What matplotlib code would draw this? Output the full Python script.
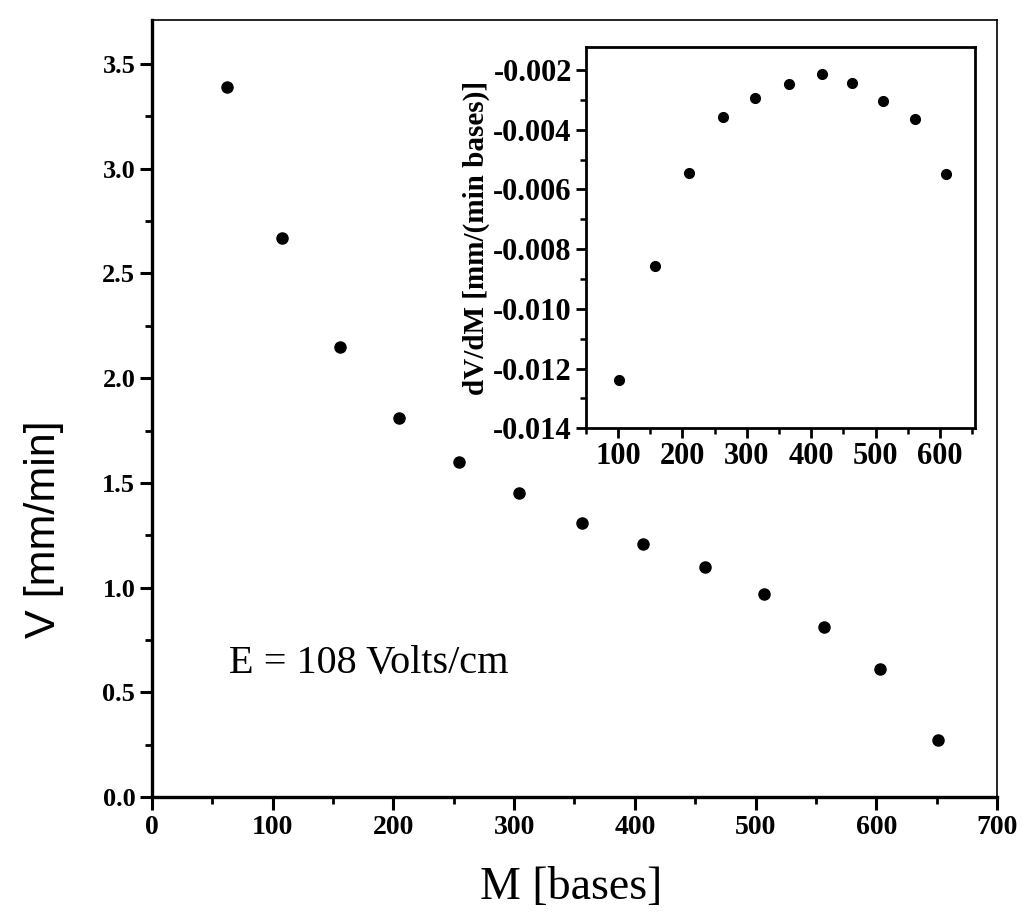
import matplotlib
matplotlib.use("Agg")
import matplotlib.pyplot as plt
from matplotlib.ticker import MultipleLocator, FormatStrFormatter

plt.rcParams['axes.unicode_minus'] = False
plt.rcParams['font.family'] = ['Liberation Serif', 'DejaVu Serif']

# migration velocity vs fragment size
size_bases = [62, 108, 156, 205, 254, 304, 356, 407, 458, 507, 557, 603, 651]
velocity = [3.39, 2.67, 2.15, 1.81, 1.60, 1.45, 1.31, 1.21, 1.10, 0.97, 0.81, 0.61, 0.27]

# slope dV/dM between neighbouring fragments
slope_bases = [101, 158, 210, 263, 313, 365, 417, 464, 511, 561, 609]
slope = [-0.01239, -0.00856, -0.00544, -0.00358, -0.00293, -0.00248,
         -0.00213, -0.00245, -0.00303, -0.00365, -0.00548]

fig = plt.figure(figsize=(10.22, 9.18), dpi=100)

# main panel
ax = fig.add_axes([0.1487, 0.1318, 0.8268, 0.8464])
ax.plot(size_bases, velocity, 'o', color='black', markersize=8)
ax.set_xlim(0, 700)
ax.set_ylim(0, 3.71)
ax.xaxis.set_major_locator(MultipleLocator(100))
ax.xaxis.set_minor_locator(MultipleLocator(50))
ax.yaxis.set_major_locator(MultipleLocator(0.5))
ax.yaxis.set_minor_locator(MultipleLocator(0.25))
ax.yaxis.set_major_formatter(FormatStrFormatter('%.1f'))
ax.tick_params(which='major', direction='out', length=9, width=2.2,
               top=False, right=False)
ax.tick_params(which='minor', direction='out', length=5, width=2,
               top=False, right=False)
ax.tick_params(axis='x', labelsize=20, pad=4)
ax.tick_params(axis='y', labelsize=19, pad=3)
for lab in ax.get_xticklabels() + ax.get_yticklabels():
    lab.set_fontweight('bold')
for side in ['left', 'bottom']:
    ax.spines[side].set_linewidth(2.4)
for side in ['top', 'right']:
    ax.spines[side].set_linewidth(1.2)

ax.set_xlabel('M [bases]', fontsize=33, va='baseline')
ax.xaxis.set_label_coords(0.496, -0.131)
ax.set_ylabel('V [mm/min]', fontsize=31, family=['Liberation Sans', 'DejaVu Sans'],
              va='bottom')
ax.yaxis.set_label_coords(-0.104, 0.345)

ax.text(64, 0.59, 'E = 108 Volts/cm', fontsize=29, ha='left', va='baseline')

# inset: derivative
ins = fig.add_axes([0.5731, 0.5334, 0.3814, 0.4157])
ins.plot(slope_bases, slope, 'o', color='black', markersize=7)
ins.set_xlim(50, 655)
ins.set_ylim(-0.014, -0.00122)
ins.xaxis.set_major_locator(MultipleLocator(100))
ins.xaxis.set_minor_locator(MultipleLocator(50))
ins.yaxis.set_major_locator(MultipleLocator(0.002))
ins.yaxis.set_minor_locator(MultipleLocator(0.001))
ins.yaxis.set_major_formatter(FormatStrFormatter('%.3f'))
ins.tick_params(which='major', direction='out', length=7, width=2,
                top=False, right=False, labelsize=22, pad=3)
ins.tick_params(which='minor', direction='out', length=4, width=1.8,
                top=False, right=False)
for lab in ins.get_xticklabels() + ins.get_yticklabels():
    lab.set_fontweight('bold')
for side in ins.spines.values():
    side.set_linewidth(2)
ins.set_ylabel('dV/dM [mm/(min bases)]', fontsize=21, fontweight='bold',
               labelpad=2)

fig.savefig('out.png', dpi=100)
